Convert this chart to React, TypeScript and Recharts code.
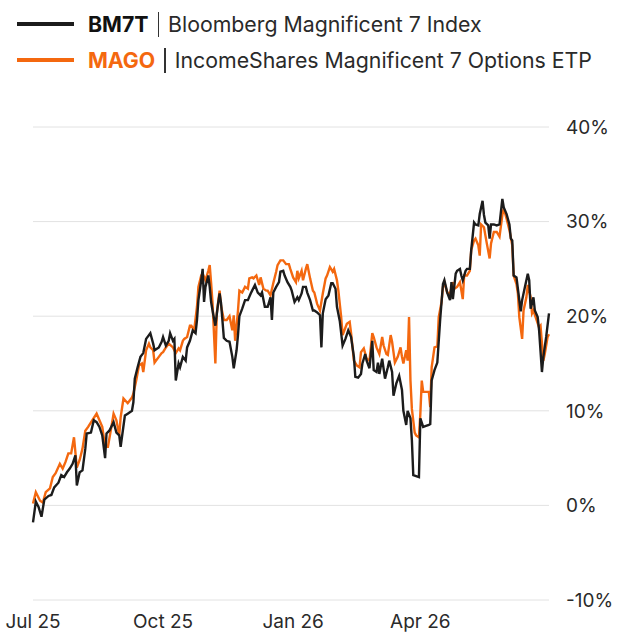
import React from "react";
import { LineChart, Line, XAxis, YAxis, CartesianGrid } from "recharts";

// Days since 1 Jul 2025
const tickDays = [0, 92, 184, 274];
const tickLabels = ["Jul 25", "Oct 25", "Jan 26", "Apr 26"];
const yTicks = [-10, 0, 10, 20, 30, 40];

const bm7tDays = [
  0, 2, 4, 6, 8, 11, 13, 15, 18, 20, 22, 24, 26, 28, 30, 31, 33, 35, 37, 38,
  41, 43, 45, 47, 49, 51, 52, 54, 57, 59, 61, 62, 65, 67, 70, 71, 72, 74, 76, 78,
  80, 83, 85, 86, 89, 91, 92, 94, 96, 97, 99, 100, 101, 103, 104, 106, 108, 109, 111, 113,
  115, 116, 117, 119, 120, 121, 122, 124, 125, 126, 127, 129, 131, 132, 133, 135, 137, 139, 141, 142,
  144, 145, 146, 148, 150, 152, 154, 155, 157, 159, 161, 162, 164, 166, 168, 169, 170, 172, 174, 175,
  177, 178, 180, 182, 183, 185, 187, 188, 190, 191, 193, 194, 196, 198, 199, 201, 203, 204, 205, 207,
  209, 211, 212, 214, 215, 217, 219, 221, 223, 225, 227, 228, 230, 232, 233, 235, 236, 238, 240, 241,
  243, 244, 245, 247, 249, 251, 252, 254, 255, 257, 259, 261, 262, 264, 265, 267, 268, 269, 271, 273,
  274, 276, 278, 280, 281, 282, 284, 286, 288, 289, 290, 291, 293, 295, 296, 297, 299, 300, 302, 303,
  304, 306, 307, 309, 310, 312, 313, 315, 316, 318, 319, 320, 322, 323, 324, 326, 328, 330, 332, 333,
  335, 337, 338, 339, 340, 342, 344, 345, 346, 348, 350, 351, 352, 354, 355, 357, 358, 360, 361, 363,
  365,
];
const bm7tValues = [
  -1.8, 0.4, -0.2, -1.2, 0.6, 1.0, 1.1, 1.9, 2.4, 3.2, 3.0, 3.5, 3.9, 4.4, 5.3, 2.1, 3.5, 3.7, 6.0, 7.6,
  7.7, 9.0, 8.8, 8.3, 7.4, 5.0, 7.6, 7.9, 8.8, 7.7, 7.4, 6.2, 9.5, 9.7, 10.0, 10.9, 13.4, 14.6, 15.7, 16.1,
  17.6, 18.2, 17.1, 16.4, 16.7, 17.3, 17.8, 16.9, 17.4, 18.2, 17.4, 17.6, 13.2, 15.0, 14.6, 15.7, 15.3, 16.7, 17.4, 18.5,
  18.2, 19.6, 21.7, 23.8, 25.0, 21.5, 23.1, 24.3, 23.1, 21.5, 20.6, 19.0, 21.4, 22.4, 21.4, 17.7, 17.4, 17.3, 15.7, 14.5,
  16.4, 18.0, 20.0, 20.8, 21.7, 21.7, 22.4, 22.7, 23.3, 22.5, 22.2, 22.5, 21.0, 21.0, 22.0, 19.6, 22.5, 23.1, 23.6, 24.7,
  24.8, 24.3, 23.6, 23.1, 22.7, 21.5, 22.0, 21.7, 22.4, 23.1, 23.1, 22.5, 21.7, 20.6, 20.6, 20.4, 20.1, 16.7, 20.3, 21.8,
  22.2, 23.5, 23.5, 22.9, 21.0, 19.5, 16.9, 17.6, 18.5, 17.8, 15.7, 13.6, 13.5, 13.9, 15.0, 16.0, 15.3, 14.5, 17.4, 14.3,
  14.1, 15.1, 13.9, 15.5, 13.4, 14.6, 15.3, 14.1, 11.6, 12.9, 13.7, 12.2, 10.0, 8.5, 10.0, 9.2, 6.9, 3.2, 3.1, 3.0,
  9.2, 8.3, 8.4, 8.5, 8.6, 13.2, 14.3, 15.1, 19.6, 21.5, 23.4, 23.8, 22.5, 21.7, 23.6, 21.8, 24.5, 24.8, 25.0, 24.3,
  23.8, 24.8, 25.0, 25.0, 27.0, 29.9, 29.7, 29.6, 30.8, 32.2, 30.7, 29.9, 29.6, 28.2, 29.7, 29.7, 29.6, 29.7, 32.4, 31.5,
  30.8, 29.7, 28.2, 28.0, 24.3, 24.1, 21.7, 20.5, 21.7, 23.1, 24.5, 23.8, 20.8, 22.0, 20.6, 19.9, 18.5, 14.1, 15.7, 17.8,
  20.3,
];

const magoDays = [
  0, 2, 5, 7, 9, 12, 14, 16, 19, 21, 23, 25, 27, 29, 31, 33, 35, 37, 39, 42,
  45, 47, 49, 51, 53, 55, 57, 59, 61, 62, 64, 67, 70, 71, 73, 75, 77, 78, 80, 82,
  83, 85, 86, 89, 91, 92, 94, 96, 99, 101, 103, 104, 106, 107, 109, 111, 112, 114, 116, 117,
  119, 120, 122, 124, 125, 126, 127, 129, 130, 132, 133, 135, 137, 139, 141, 142, 143, 145, 146, 148,
  150, 152, 153, 155, 156, 158, 160, 161, 163, 165, 166, 168, 170, 172, 173, 175, 177, 179, 181, 182,
  184, 186, 187, 188, 190, 191, 193, 194, 196, 198, 199, 201, 203, 205, 207, 208, 210, 212, 213, 215,
  216, 218, 219, 222, 224, 225, 227, 229, 231, 232, 234, 236, 238, 240, 241, 243, 245, 247, 248, 250,
  251, 253, 254, 256, 258, 260, 261, 262, 264, 265, 266, 267, 268, 270, 271, 273, 274, 275, 276, 278,
  280, 281, 282, 284, 286, 287, 289, 290, 291, 293, 295, 297, 298, 300, 302, 304, 305, 307, 309, 310,
  312, 313, 315, 316, 317, 319, 321, 323, 324, 326, 328, 330, 332, 333, 335, 337, 339, 340, 342, 343,
  344, 346, 347, 349, 350, 352, 353, 354, 356, 358, 359, 361, 362, 364, 365,
];
const magoValues = [
  0.2, 1.4, 0.5, 0.3, 1.4, 1.8, 3.0, 3.4, 4.4, 3.9, 4.6, 5.5, 5.5, 7.2, 4.0, 4.8, 6.0, 7.9, 8.3, 9.0,
  9.7, 9.0, 8.3, 6.2, 6.2, 7.9, 9.7, 9.0, 7.4, 9.3, 11.3, 10.8, 11.4, 11.8, 13.2, 14.8, 15.0, 14.1, 16.4, 17.1,
  16.7, 16.4, 15.1, 15.7, 16.1, 16.2, 16.7, 17.1, 16.7, 16.1, 16.6, 16.4, 17.4, 17.6, 17.8, 19.0, 19.0, 18.5, 21.0, 23.1,
  24.3, 24.5, 23.8, 24.8, 25.4, 23.5, 21.4, 15.0, 20.3, 22.7, 21.1, 19.6, 19.6, 20.0, 18.5, 20.1, 17.4, 20.6, 22.7, 22.5,
  23.1, 22.9, 24.0, 24.1, 24.0, 24.3, 23.3, 24.1, 22.9, 22.7, 22.7, 22.2, 23.5, 24.7, 25.4, 25.9, 25.9, 25.5, 25.5, 25.0,
  24.1, 23.6, 24.8, 24.0, 24.8, 23.8, 25.0, 25.5, 24.0, 22.7, 22.5, 21.3, 20.6, 22.4, 24.0, 24.3, 25.2, 24.7, 25.0, 23.8,
  22.7, 19.9, 18.0, 19.2, 19.4, 18.2, 15.3, 14.8, 14.6, 16.2, 16.6, 15.5, 15.3, 18.2, 17.8, 16.7, 16.0, 17.8, 16.9, 16.0,
  15.9, 18.0, 17.3, 15.1, 15.7, 16.7, 15.7, 15.0, 16.4, 15.3, 19.9, 13.2, 10.2, 7.7, 7.4, 7.2, 9.7, 13.2, 12.0, 12.0,
  12.0, 10.4, 14.6, 16.7, 16.8, 19.9, 21.5, 23.1, 23.6, 22.5, 22.4, 23.6, 22.9, 23.1, 23.6, 21.8, 24.3, 24.3, 24.8, 27.0,
  28.0, 28.2, 27.5, 26.4, 29.7, 29.4, 27.7, 26.1, 27.7, 28.9, 28.9, 28.4, 30.7, 31.4, 30.3, 29.1, 27.5, 24.3, 23.4, 22.4,
  19.9, 17.6, 20.6, 22.0, 23.3, 22.0, 20.3, 20.6, 19.7, 18.8, 19.0, 15.3, 16.0, 17.8, 18.1,
];

const bm7tData = bm7tDays.map((d, i) => ({ day: d, value: bm7tValues[i] }));
const magoData = magoDays.map((d, i) => ({ day: d, value: magoValues[i] }));

const BLACK = "#1c1c1c";
const ORANGE = "#f4680f";
const FONT = "Inter, 'Noto Sans', sans-serif";

export default function App() {
  return (
    <div
      style={{
        position: "absolute",
        left: 0,
        top: 0,
        width: 628,
        height: 635,
        background: "#fff",
        fontFamily: FONT,
        overflow: "hidden",
      }}
    >
      <div style={{ position: "absolute", left: 0, top: 0, width: 628 }}>
        {[
          { code: "BM7T", name: "Bloomberg Magnificent 7 Index", color: BLACK, codeColor: "#111", top: 10 },
          { code: "MAGO", name: "IncomeShares Magnificent 7 Options ETP", color: ORANGE, codeColor: ORANGE, top: 46 },
        ].map((r) => (
          <div
            key={r.code}
            style={{
              position: "absolute",
              left: 17,
              top: r.top,
              height: 28,
              display: "flex",
              alignItems: "center",
              whiteSpace: "nowrap",
              fontSize: 21.3,
              color: "#2a2a2a",
            }}
          >
            <span style={{ display: "inline-block", width: 57, height: 4, background: r.color, marginRight: 14 }} />
            <span style={{ fontWeight: 700, color: r.codeColor }}>{r.code}</span>
            <span style={{ display: "inline-block", width: 1.5, height: 25, background: "#333", margin: "0 9px" }} />
            <span>{r.name}</span>
          </div>
        ))}
      </div>
      <div style={{ position: "absolute", left: 0, top: 0 }}>
        <LineChart width={628} height={635} margin={{ top: 127, right: 0, bottom: 0, left: 33 }}>
          <CartesianGrid vertical={false} stroke="#e2e2e2" strokeWidth={1} />
          <XAxis
            type="number"
            dataKey="day"
            domain={[0, 365]}
            ticks={tickDays}
            tickFormatter={(v: number) => tickLabels[tickDays.indexOf(v)] ?? ""}
            axisLine={false}
            tickLine={false}
            height={35}
            tickMargin={9}
            allowDuplicatedCategory={false}
            tick={{ fill: "#2a2a2a", fontSize: 19, fontFamily: FONT }}
            interval={0}
          />
          <YAxis
            orientation="right"
            type="number"
            domain={[-10, 40]}
            ticks={yTicks}
            tickFormatter={(v: number) => `${v}%`}
            axisLine={false}
            tickLine={false}
            width={79}
            tickMargin={11}
            interval={0}
            tick={{ fill: "#2a2a2a", fontSize: 19, fontFamily: FONT, textAnchor: "start" }}
          />
          <Line
            data={magoData}
            dataKey="value"
            type="linear"
            stroke={ORANGE}
            strokeWidth={2.4}
            dot={false}
            isAnimationActive={false}
          />
          <Line
            data={bm7tData}
            dataKey="value"
            type="linear"
            stroke={BLACK}
            strokeWidth={2.4}
            dot={false}
            isAnimationActive={false}
          />
        </LineChart>
      </div>
    </div>
  );
}
